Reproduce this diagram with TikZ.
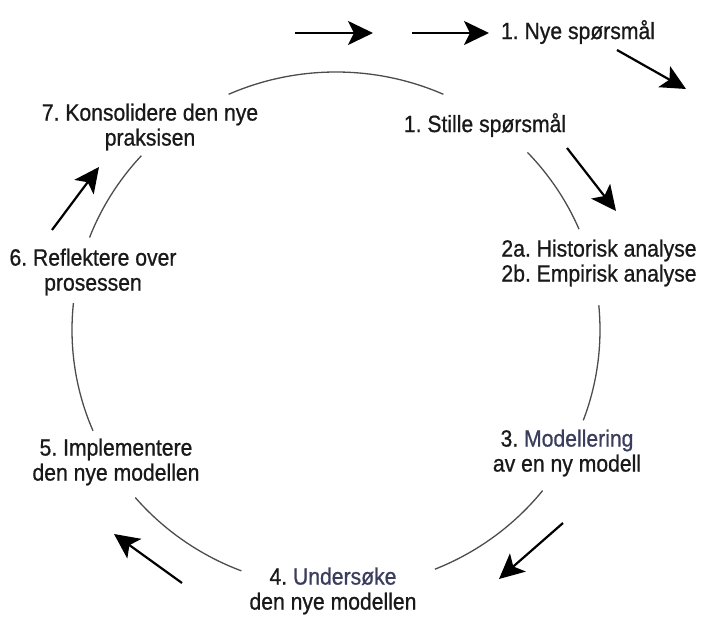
\documentclass[tikz,border=0pt]{standalone}
\usepackage{fontspec}
\setmainfont{Liberation Sans}[FakeStretch=0.9, FakeBold=0.8]
\usetikzlibrary{arrows.meta}
\definecolor{skifer}{RGB}{58,62,92}
\definecolor{tekst}{RGB}{25,25,25}
\frenchspacing
\begin{document}
\begin{tikzpicture}[
				x=1pt, y=1pt,
				trinn/.style={align=center, text=tekst, inner sep=1pt,
						font=\fontsize{23.5}{25}\selectfont},
				sirkel/.style={draw=black!70, line width=1.3pt},
				pil/.style={draw=black, line width=2.2pt,
						-{Stealth[length=25pt, width=24pt, inset=6pt]}},
				rx/.store in=\rx, ry/.store in=\ry, rx=264, ry=258
			]
			\useasboundingbox (0,0) rectangle (703,619);
			% Midtpunkt for sirkelen
			\coordinate (m) at (336,289);
			% Trinnene
			\node[trinn] (nye) at (578,587) {1. Nye spørsmål};
			\node[trinn] (stille) at (485,494) {1. Stille spørsmål};
			\node[trinn] (analyse) at (599,356) {2a. Historisk analyse\\2b. Empirisk analyse};
			\node[trinn] (modell) at (567,166) {3. {\color{skifer}Modellering}\\av en ny modell};
			\node[trinn] (undersoke) at (333,28) {4. {\color{skifer}Undersøke}\\den nye modellen};
			\node[trinn] (impl) at (116,157) {5. Implementere\\den nye modellen};
			\node[trinn] (refl) at (93,347) {6. Reflektere over\\prosessen};
			\node[trinn] (kons) at (150,492) {7. Konsolidere den nye\\praksisen};
			% Buene mellom trinnene
			\draw[sirkel] (m) ++(66:\rx pt and \ry pt) coordinate (b1)
				arc[start angle=66, end angle=114, x radius=\rx, y radius=\ry];
			\draw[sirkel] (m) ++(23:\rx pt and \ry pt) coordinate (b2)
				arc[start angle=23, end angle=43.5, x radius=\rx, y radius=\ry];
			\draw[sirkel] (m) ++(-20.5:\rx pt and \ry pt) coordinate (b3)
				arc[start angle=-20.5, end angle=5.5, x radius=\rx, y radius=\ry];
			\draw[sirkel] (m) ++(-68:\rx pt and \ry pt) coordinate (b4)
				arc[start angle=-68, end angle=-38.5, x radius=\rx, y radius=\ry];
			\draw[sirkel] (m) ++(-139.5:\rx pt and \ry pt) coordinate (b5)
				arc[start angle=-139.5, end angle=-111, x radius=\rx, y radius=\ry];
			\draw[sirkel] (m) ++(174:\rx pt and \ry pt) coordinate (b6)
				arc[start angle=174, end angle=203, x radius=\rx, y radius=\ry];
			\draw[sirkel] (m) ++(137.5:\rx pt and \ry pt) coordinate (b7)
				arc[start angle=137.5, end angle=159, x radius=\rx, y radius=\ry];
			% Piler
			\coordinate (p1a) at (295,586);
			\coordinate (p1b) at (373,586);
			\coordinate (p2a) at (412,586);
			\coordinate (p2b) at (489,586);
			\coordinate (p3a) at (617,569);
			\coordinate (p3b) at (686,530);
			\coordinate (p4a) at (567,471);
			\coordinate (p4b) at (616,408);
			\coordinate (p5a) at (563,96);
			\coordinate (p5b) at (499,40);
			\coordinate (p6a) at (182,36);
			\coordinate (p6b) at (114,85);
			\coordinate (p7a) at (52,389);
			\coordinate (p7b) at (99,452);
			\draw[pil] (p1a) -- (p1b);
			\draw[pil] (p2a) -- (p2b);
			\draw[pil] (p3a) -- (p3b);
			\draw[pil] (p4a) -- (p4b);
			\draw[pil] (p5a) -- (p5b);
			\draw[pil] (p6a) -- (p6b);
			\draw[pil] (p7a) -- (p7b);
		\end{tikzpicture}
\end{document}
